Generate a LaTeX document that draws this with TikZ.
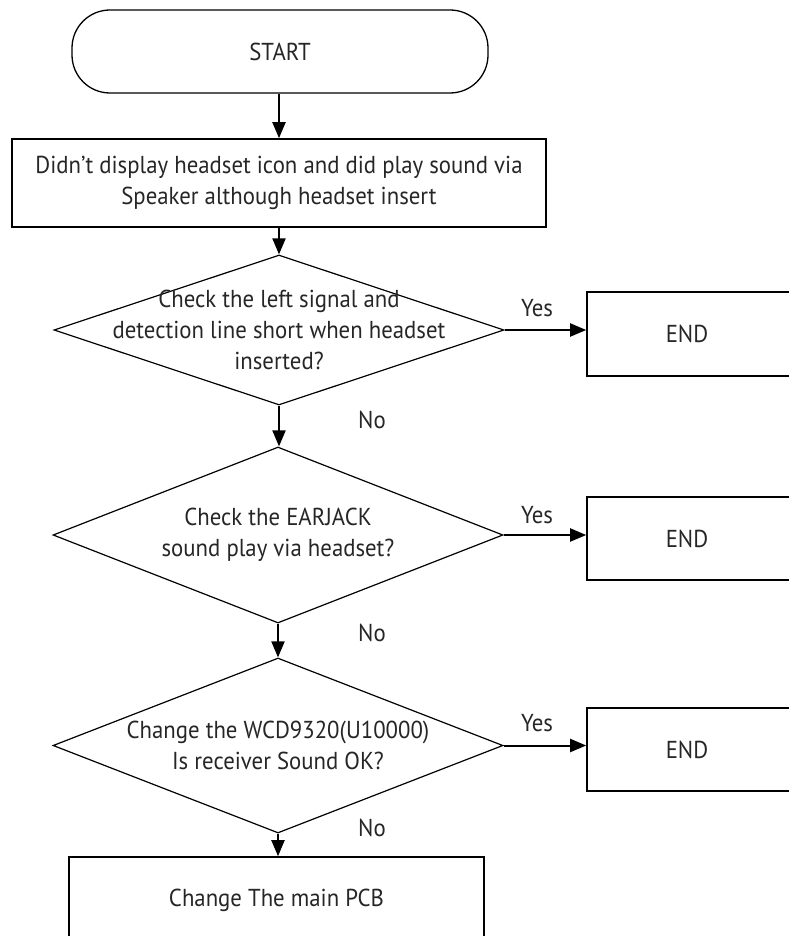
\documentclass[tikz,border=0pt]{standalone}
\usepackage{fontspec}
\setmainfont{PT Sans}[FakeStretch=0.93]
\usetikzlibrary{shapes.geometric,arrows.meta}
\begin{document}
\begin{tikzpicture}[x=1pt,y=-1pt,
  every node/.style={font=\fontsize{24.5}{31}\selectfont,text=black!85},
  arr/.style={line width=2pt,-{Triangle[length=16pt,width=13pt]}},
  term/.style={draw,line width=1.3pt,rounded corners=38pt,minimum width=416pt,minimum height=83pt,inner sep=0pt},
  proc/.style={draw,line width=1.6pt,inner sep=0pt,align=center},
  dec/.style={draw,line width=1.2pt,diamond,minimum width=450pt,inner sep=0pt},
  txt/.style={align=center,inner sep=0pt},
  lab/.style={inner sep=0pt}]
\useasboundingbox (0,0) rectangle (788,936);
\node[term] (start) at (280,51.5) {START};
\node[proc,minimum width=534pt,minimum height=88pt] (b1) at (279,183) {Didn’t display headset icon and did play sound via\\Speaker although headset insert};
\node[dec,minimum height=150pt] (d1) at (279,330) {};
\node[txt] (t1) at (d1) {Check the left signal and\\detection line short when headset\\inserted?};
\node[proc,minimum width=220pt,minimum height=84pt] (e1) at (697,334) {};
\node[lab] (et1) at (687,334) {END};
\node[dec,minimum height=176pt] (d2) at (278,535) {};
\node[txt] (t2) at (d2) {Check the EARJACK\\sound play via headset?};
\node[proc,minimum width=220pt,minimum height=83pt] (e2) at (697,538.5) {};
\node[lab] (et2) at (687,538.5) {END};
\node[dec,minimum height=175pt] (d3) at (278,745.5) {};
\node[txt] (t3) at (d3) {Change the WCD9320(U10000)\\Is receiver Sound OK?};
\node[proc,minimum width=220pt,minimum height=83pt] (e3) at (697,749.5) {};
\node[lab] (et3) at (687,749.5) {END};
\node[proc,minimum width=415pt,minimum height=86pt] (f) at (276.5,900) {Change The main PCB};
\node[lab] (y1) at (537,308) {Yes};
\node[lab] (y2) at (537,515) {Yes};
\node[lab] (y3) at (537,723) {Yes};
\node[lab] (n1) at (372,420) {No};
\node[lab] (n2) at (372,633) {No};
\node[lab] (n3) at (372,828) {No};
\draw[arr] (start.south -| b1.north) -- (b1.north);
\draw[arr] (b1.south -| d1.north) -- (d1.north);
\draw[arr] (d1.south) -- (d1.south |- d2.north);
\draw[arr] (d2.south) -- (d3.north);
\draw[arr] (d3.south) -- (d3.south |- f.north);
\draw[arr] (d1.east) -- (d1.east -| e1.west);
\draw[arr] (d2.east) -- (d2.east -| e2.west);
\draw[arr] (d3.east) -- (d3.east -| e3.west);
\end{tikzpicture}
\end{document}
